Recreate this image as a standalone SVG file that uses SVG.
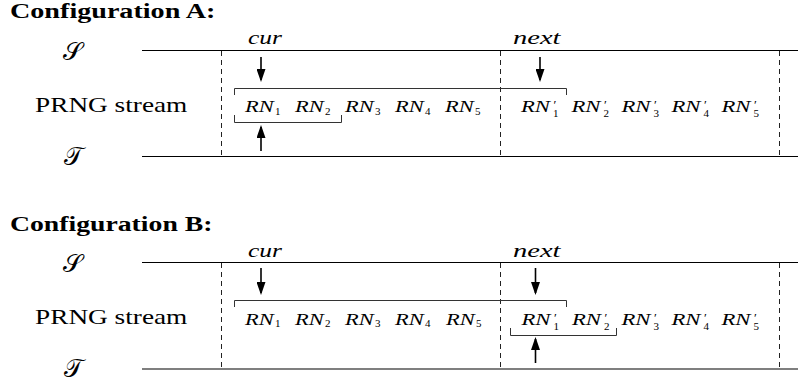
<svg xmlns="http://www.w3.org/2000/svg" width="798" height="382" viewBox="0 0 798 382">
  <defs>
    <marker id="head" viewBox="0 0 13 9" refX="11" refY="4.5" markerWidth="13" markerHeight="9" markerUnits="userSpaceOnUse" orient="auto">
      <path d="M0,0 L13,4.5 L0,9 Z" fill="#000"/>
    </marker>
  </defs>

  <!-- ===== Configuration A ===== -->
  <g id="configA">
    <text id="a-title" font-family="Liberation Serif" font-weight="bold" font-size="21" transform="translate(10,18) scale(1.34,1)">Configuration A:</text>

    <g id="a-S">
      <text font-family="Liberation Serif" font-size="25" x="72" y="60" text-anchor="middle">𝒮</text>
      <line stroke="#000" stroke-width="1.2" x1="142" y1="50.5" x2="798" y2="50.5"/>
    </g>
    <g id="a-T">
      <text font-family="Liberation Serif" font-size="25" x="73" y="165" text-anchor="middle">𝒯</text>
      <line stroke="#000" stroke-width="1.2" x1="142" y1="156.5" x2="798" y2="156.5"/>
    </g>
    <text id="a-stream" font-family="Liberation Serif" font-size="21" transform="translate(35,112) scale(1.3,1)">PRNG stream</text>

    <g id="a-blocks" stroke="#222" stroke-width="1" stroke-dasharray="5 4">
      <line x1="221.5" y1="51" x2="221.5" y2="156"/>
      <line x1="500.5" y1="51" x2="500.5" y2="156"/>
      <line x1="779.5" y1="51" x2="779.5" y2="156"/>
    </g>

    <g id="a-numbers">
      <g transform="translate(245,112)"><text font-family="Liberation Serif" font-style="italic" font-size="16" transform="scale(1.4,1)">RN</text><text font-family="Liberation Serif" font-size="11" x="30" y="2.5">1</text></g>
      <g transform="translate(295,112)"><text font-family="Liberation Serif" font-style="italic" font-size="16" transform="scale(1.4,1)">RN</text><text font-family="Liberation Serif" font-size="11" x="30" y="2.5">2</text></g>
      <g transform="translate(345,112)"><text font-family="Liberation Serif" font-style="italic" font-size="16" transform="scale(1.4,1)">RN</text><text font-family="Liberation Serif" font-size="11" x="30" y="2.5">3</text></g>
      <g transform="translate(395,112)"><text font-family="Liberation Serif" font-style="italic" font-size="16" transform="scale(1.4,1)">RN</text><text font-family="Liberation Serif" font-size="11" x="30" y="2.5">4</text></g>
      <g transform="translate(445,112)"><text font-family="Liberation Serif" font-style="italic" font-size="16" transform="scale(1.4,1)">RN</text><text font-family="Liberation Serif" font-size="11" x="30" y="2.5">5</text></g>

      <g transform="translate(521,112)"><text font-family="Liberation Serif" font-style="italic" font-size="16" transform="scale(1.42,1)">RN</text><text font-family="Liberation Serif" font-size="13" x="32.5" y="-3">′</text><text font-family="Liberation Serif" font-size="11" x="32" y="5">1</text></g>
      <g transform="translate(571.5,112)"><text font-family="Liberation Serif" font-style="italic" font-size="16" transform="scale(1.42,1)">RN</text><text font-family="Liberation Serif" font-size="13" x="32.5" y="-3">′</text><text font-family="Liberation Serif" font-size="11" x="32" y="5">2</text></g>
      <g transform="translate(621.5,112)"><text font-family="Liberation Serif" font-style="italic" font-size="16" transform="scale(1.42,1)">RN</text><text font-family="Liberation Serif" font-size="13" x="32.5" y="-3">′</text><text font-family="Liberation Serif" font-size="11" x="32" y="5">3</text></g>
      <g transform="translate(671.5,112)"><text font-family="Liberation Serif" font-style="italic" font-size="16" transform="scale(1.42,1)">RN</text><text font-family="Liberation Serif" font-size="13" x="32.5" y="-3">′</text><text font-family="Liberation Serif" font-size="11" x="32" y="5">4</text></g>
      <g transform="translate(721.5,112)"><text font-family="Liberation Serif" font-style="italic" font-size="16" transform="scale(1.42,1)">RN</text><text font-family="Liberation Serif" font-size="13" x="32.5" y="-3">′</text><text font-family="Liberation Serif" font-size="11" x="32" y="5">5</text></g>
    </g>

    <g id="a-cur">
      <text font-family="Liberation Serif" font-style="italic" font-size="19" transform="translate(248,44) scale(1.34,1)">cur</text>
    </g>
    <g id="a-next">
      <text font-family="Liberation Serif" font-style="italic" font-size="19" transform="translate(513,44) scale(1.5,1)">next</text>
    </g>

    <g id="a-connectors" fill="none">
      <g stroke="#333" stroke-width="1">
        <path d="M234.5,95 V88.5 H566.5 V95"/>
        <path d="M234.5,115 V122.5 H341.5 V115"/>
      </g>
      <g stroke="#000" stroke-width="1.6" marker-end="url(#head)">
        <line x1="261" y1="57" x2="261" y2="80"/>
        <line x1="540" y1="57" x2="540" y2="80"/>
        <line x1="261" y1="151" x2="261" y2="127"/>
      </g>
    </g>
  </g>

  <!-- ===== Configuration B ===== -->
  <g id="configB" transform="translate(0,212)">
    <text id="b-title" font-family="Liberation Serif" font-weight="bold" font-size="21" transform="translate(10,18.5) scale(1.32,1)">Configuration B:</text>

    <g id="b-S">
      <text font-family="Liberation Serif" font-size="25" x="72" y="60" text-anchor="middle">𝒮</text>
      <line stroke="#000" stroke-width="1.2" x1="142" y1="50.5" x2="798" y2="50.5"/>
    </g>
    <g id="b-T">
      <text font-family="Liberation Serif" font-size="25" x="73" y="165" text-anchor="middle">𝒯</text>
      <line stroke="#000" stroke-width="1.2" x1="142" y1="157" x2="798" y2="157"/>
    </g>
    <text id="b-stream" font-family="Liberation Serif" font-size="21" transform="translate(35,112) scale(1.3,1)">PRNG stream</text>

    <g id="b-blocks" stroke="#222" stroke-width="1" stroke-dasharray="5 4">
      <line x1="221.5" y1="51" x2="221.5" y2="157"/>
      <line x1="500.5" y1="51" x2="500.5" y2="157"/>
      <line x1="779.5" y1="51" x2="779.5" y2="157"/>
    </g>

    <g id="b-numbers">
      <g transform="translate(245,112.5)"><text font-family="Liberation Serif" font-style="italic" font-size="16" transform="scale(1.4,1)">RN</text><text font-family="Liberation Serif" font-size="11" x="30" y="2.5">1</text></g>
      <g transform="translate(295,112.5)"><text font-family="Liberation Serif" font-style="italic" font-size="16" transform="scale(1.4,1)">RN</text><text font-family="Liberation Serif" font-size="11" x="30" y="2.5">2</text></g>
      <g transform="translate(345,112.5)"><text font-family="Liberation Serif" font-style="italic" font-size="16" transform="scale(1.4,1)">RN</text><text font-family="Liberation Serif" font-size="11" x="30" y="2.5">3</text></g>
      <g transform="translate(395,112.5)"><text font-family="Liberation Serif" font-style="italic" font-size="16" transform="scale(1.4,1)">RN</text><text font-family="Liberation Serif" font-size="11" x="30" y="2.5">4</text></g>
      <g transform="translate(446,112.5)"><text font-family="Liberation Serif" font-style="italic" font-size="16" transform="scale(1.4,1)">RN</text><text font-family="Liberation Serif" font-size="11" x="30" y="2.5">5</text></g>

      <g transform="translate(521.5,112.5)"><text font-family="Liberation Serif" font-style="italic" font-size="16" transform="scale(1.42,1)">RN</text><text font-family="Liberation Serif" font-size="13" x="32.5" y="-3">′</text><text font-family="Liberation Serif" font-size="11" x="32" y="5">1</text></g>
      <g transform="translate(572,112.5)"><text font-family="Liberation Serif" font-style="italic" font-size="16" transform="scale(1.42,1)">RN</text><text font-family="Liberation Serif" font-size="13" x="32.5" y="-3">′</text><text font-family="Liberation Serif" font-size="11" x="32" y="5">2</text></g>
      <g transform="translate(621.5,112.5)"><text font-family="Liberation Serif" font-style="italic" font-size="16" transform="scale(1.42,1)">RN</text><text font-family="Liberation Serif" font-size="13" x="32.5" y="-3">′</text><text font-family="Liberation Serif" font-size="11" x="32" y="5">3</text></g>
      <g transform="translate(671.5,112.5)"><text font-family="Liberation Serif" font-style="italic" font-size="16" transform="scale(1.42,1)">RN</text><text font-family="Liberation Serif" font-size="13" x="32.5" y="-3">′</text><text font-family="Liberation Serif" font-size="11" x="32" y="5">4</text></g>
      <g transform="translate(721.5,112.5)"><text font-family="Liberation Serif" font-style="italic" font-size="16" transform="scale(1.42,1)">RN</text><text font-family="Liberation Serif" font-size="13" x="32.5" y="-3">′</text><text font-family="Liberation Serif" font-size="11" x="32" y="5">5</text></g>
    </g>

    <g id="b-cur">
      <text font-family="Liberation Serif" font-style="italic" font-size="19" transform="translate(248,45) scale(1.34,1)">cur</text>
    </g>
    <g id="b-next">
      <text font-family="Liberation Serif" font-style="italic" font-size="19" transform="translate(513,45) scale(1.5,1)">next</text>
    </g>

    <g id="b-connectors" fill="none">
      <g stroke="#333" stroke-width="1">
        <path d="M234.5,95 V88.5 H566.5 V95"/>
        <path d="M510.5,116 V123.5 H616.5 V116"/>
      </g>
      <g stroke="#000" stroke-width="1.6" marker-end="url(#head)">
        <line x1="261" y1="56" x2="261" y2="81"/>
        <line x1="535.5" y1="56" x2="535.5" y2="81"/>
        <line x1="535.5" y1="151" x2="535.5" y2="127"/>
      </g>
    </g>
  </g>
</svg>
